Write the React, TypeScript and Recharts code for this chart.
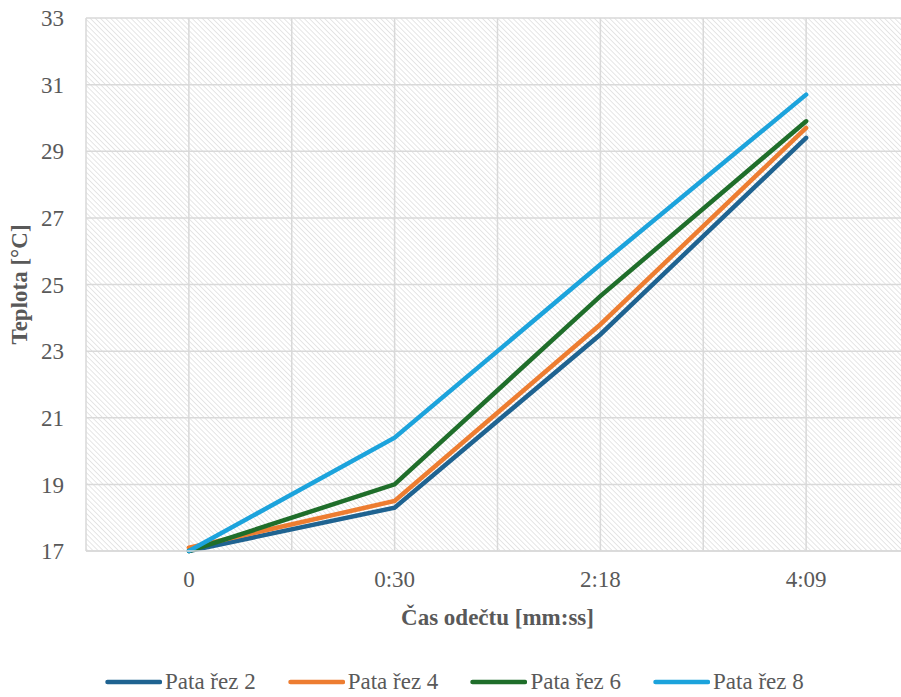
import { LineChart, Line, XAxis, YAxis, CartesianGrid, Legend, Label } from "recharts";

const categories = ["0", "0:30", "2:18", "4:09"];
const rez2 = [17.0, 18.3, 23.5, 29.4];
const rez4 = [17.1, 18.5, 23.8, 29.7];
const rez6 = [17.0, 19.0, 24.65, 29.9];
const rez8 = [17.0, 20.4, 25.6, 30.7];
const yTicks = [17, 19, 21, 23, 25, 27, 29, 31, 33];
const xTicks = [-0.5, 0, 0.5, 1, 1.5, 2, 2.5, 3, 3.5];

const SERIES = [
  { key: "rez2", name: "Pata řez 2", color: "#1f6391" },
  { key: "rez4", name: "Pata řez 4", color: "#ed7d31" },
  { key: "rez6", name: "Pata řez 6", color: "#1f6e2a" },
  { key: "rez8", name: "Pata řez 8", color: "#1ca3dc" },
];

const data = categories.map((c, i) => ({
  idx: i,
  label: c,
  rez2: rez2[i],
  rez4: rez4[i],
  rez6: rez6[i],
  rez8: rez8[i],
}));

const FONT = "Liberation Serif";
const TXT = "#595959";
const FS = 23;

// force the serif face everywhere, in case something else sets a font
const CSS = `#root, #root * { font-family: "Liberation Serif", "Times New Roman", serif !important; }`;

function renderLegend(props: any) {
  const payload = props.payload || [];
  return (
    <div style={{ display: "flex", justifyContent: "flex-start", gap: 32, fontFamily: FONT, fontSize: FS, color: TXT, paddingTop: 38, paddingLeft: 105, lineHeight: "26px" }}>
      {payload.map((p: any) => (
        <div key={p.value} style={{ display: "flex", alignItems: "center" }}>
          <svg width={57} height={8} style={{ marginRight: 3 }}>
            <line x1={2.5} y1={4} x2={55} y2={4} stroke={p.color} strokeWidth={4.5} strokeLinecap="round" />
          </svg>
          <span>{p.value}</span>
        </div>
      ))}
    </div>
  );
}

export default function App() {
  return (
    <div style={{ position: "absolute", left: 0, top: 0, width: 901, height: 697, overflow: "hidden", background: "#fff", fontFamily: FONT }}>
      <style>{CSS}</style>
      <LineChart width={930} height={697} data={data} margin={{ top: 18, right: 21, bottom: 0, left: 0 }}>
        <defs>
          <pattern id="hatch" width={3.6} height={3.6} patternUnits="userSpaceOnUse" patternTransform="rotate(-45)">
            <rect width={3.6} height={3.6} fill="#ffffff" />
            <line x1={0} y1={0} x2={0} y2={3.6} stroke="#d9d9d9" strokeWidth={1.3} />
          </pattern>
        </defs>
        <CartesianGrid stroke="#d9d9d9" strokeWidth={1.5} fill="url(#hatch)" fillOpacity={1} />
        <XAxis
          dataKey="idx"
          type="number"
          domain={[-0.5, 3.5]}
          ticks={xTicks}
          interval={0}
          tickFormatter={(v: number) => (Number.isInteger(v) ? categories[v] : "")}
          tickLine={false}
          tickSize={0}
          tickMargin={20}
          axisLine={{ stroke: "#d9d9d9", strokeWidth: 1.5 }}
          tick={{ fill: TXT, fontSize: FS, fontFamily: FONT }}
          height={80}
        >
          <Label
            value="Čas odečtu [mm:ss]"
            position="insideBottom"
            offset={6}
            style={{ fill: TXT, fontSize: FS, fontWeight: "bold", fontFamily: FONT }}
          />
        </XAxis>
        <YAxis
          type="number"
          domain={[17, 33]}
          ticks={yTicks}
          interval={0}
          tickLine={false}
          axisLine={false}
          tickSize={0}
          tickMargin={22}
          tick={{ fill: TXT, fontSize: FS, fontFamily: FONT }}
          width={86}
        >
          <Label
            value="Teplota [°C]"
            angle={-90}
            position="insideLeft"
            offset={19}
            style={{ fill: TXT, fontSize: FS, fontWeight: "bold", fontFamily: FONT, textAnchor: "middle" }}
          />
        </YAxis>
        <Legend verticalAlign="bottom" height={66} content={renderLegend} />
        {SERIES.map((s) => (
          <Line
            key={s.key}
            dataKey={s.key}
            name={s.name}
            type="linear"
            stroke={s.color}
            strokeWidth={4.5}
            strokeLinecap="round"
            dot={false}
            activeDot={false}
            isAnimationActive={false}
          />
        ))}
      </LineChart>
    </div>
  );
}
